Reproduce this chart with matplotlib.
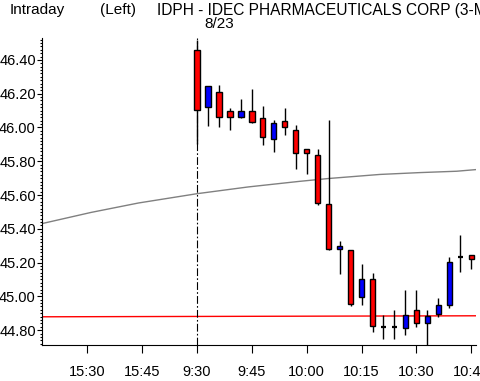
import matplotlib
matplotlib.use("Agg")
import matplotlib.pyplot as plt
from matplotlib.ticker import MultipleLocator, FormatStrFormatter

plt.rcParams['font.family'] = ['Liberation Sans', 'DejaVu Sans']

# 3-minute bars, 8/23
bar_times = ["09:30", "09:33", "09:36", "09:39", "09:42", "09:45", "09:48", "09:51", "09:54", "09:57",
             "10:00", "10:03", "10:06", "10:09", "10:12", "10:15", "10:18", "10:21", "10:24", "10:27",
             "10:30", "10:33", "10:36", "10:39", "10:42", "10:45"]
opens = [46.457, 46.12, 46.21, 46.10, 46.063, 46.10, 46.057, 45.934, 46.039, 45.986,
         45.875, 45.839, 45.545, 45.28, 45.276, 44.998, 45.104, 44.821, 44.821, 44.81,
         44.918, 44.84, 44.898, 44.951, 45.232, 45.247]
highs = [46.52, 46.245, 46.25, 46.116, 46.169, 46.227, 46.13, 46.045, 46.118, 46.016,
         45.875, 45.875, 46.045, 45.328, 45.276, 45.19, 45.137, 44.89, 44.92, 45.035,
         45.035, 44.92, 44.992, 45.235, 45.365, 45.247]
lows = [45.90, 46.01, 46.00, 45.984, 46.055, 46.025, 45.894, 45.855, 45.955, 45.755,
        45.726, 45.543, 45.275, 45.134, 44.945, 44.949, 44.79, 44.745, 44.745, 44.772,
        44.82, 44.70, 44.878, 44.931, 45.143, 45.16]
closes = [46.104, 46.245, 46.063, 46.063, 46.10, 46.033, 45.945, 46.028, 46.004, 45.851,
          45.851, 45.551, 45.282, 45.296, 44.957, 45.104, 44.827, 44.821, 44.821, 44.892,
          44.84, 44.882, 44.947, 45.206, 45.232, 45.222]

# gray average line
avg_times = ["15:17", "15:31", "15:44", "09:30", "09:44", "09:58", "10:06", "10:20", "10:31", "10:41", "10:47"]
avg_values = [45.428, 45.497, 45.553, 45.608, 45.648, 45.681, 45.698, 45.722, 45.733, 45.741, 45.752]

# red reference line
ref_times = ["15:17", "10:47"]
ref_values = [44.879, 44.885]

tick_labels = ["15:30", "15:45", "9:30", "9:45", "10:00", "10:15", "10:30", "10:45"]


def pos(t):
    # minutes from 9:30; previous day's close (16:00) sits on 9:30
    h, m = map(int, t.split(":"))
    if h >= 12:
        return h * 60 + m - 16 * 60
    return h * 60 + m - (9 * 60 + 30)


fig = plt.figure(figsize=(4.8, 3.81), dpi=100)
ax = fig.add_axes([42 / 480, 1 - 345 / 381, 434 / 480, 307 / 381])

xs = [pos(t) for t in bar_times]
w = 1.45
for x, o, h, l, c in zip(xs, opens, highs, lows, closes):
    ax.vlines(x, l, h, color='black', lw=1, zorder=2)
    if abs(c - o) < 0.004:
        ax.hlines(o, x - w / 2, x + w / 2, color='black', lw=1.6, zorder=3)
    else:
        col = '#0000ff' if c > o else '#ff0000'
        ax.bar(x, abs(c - o), bottom=min(o, c), width=w, color=col,
               edgecolor='black', linewidth=1, zorder=3)

ax.plot([pos(t) for t in avg_times], avg_values, color='#808080', lw=1, zorder=1)
ax.plot([pos(t) for t in ref_times], ref_values, color='#ff0000', lw=1, zorder=1)
ax.axvline(0, color='black', lw=0.8, linestyle=(0, (7, 2, 1.5, 2)), zorder=1)

ax.set_xlim(-42.4, 76.3)
ax.set_ylim(44.712, 46.53)

ax.set_xticks([pos(t) for t in tick_labels])
ax.set_xticklabels(tick_labels)
ax.yaxis.set_major_locator(MultipleLocator(0.2))
ax.yaxis.set_minor_locator(MultipleLocator(0.02))
ax.yaxis.set_major_formatter(FormatStrFormatter('%.2f'))

ax.tick_params(axis='x', direction='out', length=5.5, width=0.8, pad=9, labelsize=10.5)
ax.tick_params(axis='y', which='major', direction='out', length=3.5, width=0.8, pad=1, labelsize=10.5)
ax.tick_params(axis='y', which='minor', direction='out', length=1.8, width=0.8)
for s in ['top', 'right']:
    ax.spines[s].set_visible(False)
for s in ['left', 'bottom']:
    ax.spines[s].set_linewidth(0.8)

fig.text(10 / 480, 1 - 10 / 381, "Intraday", fontsize=11, va='center', ha='left')
fig.text(100 / 480, 1 - 10 / 381, "(Left)", fontsize=11, va='center', ha='left')
fig.text(157 / 480, 1 - 10 / 381, "IDPH - IDEC PHARMACEUTICALS CORP (3-Min)",
         fontsize=11.2, va='center', ha='left')
fig.text(204 / 480, 1 - 24 / 381, "8/23", fontsize=11, va='center', ha='left')

fig.savefig("out.png", dpi=100)
